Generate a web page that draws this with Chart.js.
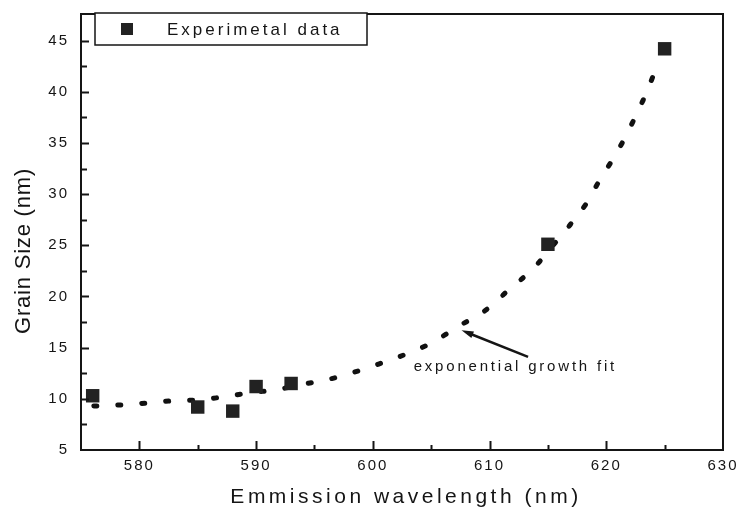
<!DOCTYPE html>
<html>
<head>
<meta charset="utf-8">
<script src="https://cdn.jsdelivr.net/npm/chart.js@4.4.1/dist/chart.umd.min.js"></script>
<style>
  html, body { margin: 0; padding: 0; background: #fff; }
  #wrap { width: 739px; height: 509px; position: relative; }
</style>
</head>
<body>
<div id="wrap"><canvas id="grainChart"></canvas></div>
<script>
// Measured points (squares)
const wavelength = [576, 585, 588, 590, 593, 615, 625];
const grainSize = [10.3, 9.2, 8.8, 11.2, 11.5, 25.1, 44.2];

// Exponential growth fit
const fitWavelength = [576.1, 578.4, 580.7, 582.8, 585.1, 587.3, 589.5, 591.8, 593.9, 596.2, 598.4, 600.5,
    602.9, 605.1, 607.2, 609.6, 611.6, 613.8, 615.3, 616.9, 618.3, 619.4, 620.5, 621.6, 622.5, 623.4, 624.1];
const fitGrainSize = [9.3, 9.4, 9.6, 9.8, 9.9, 10.2, 10.6, 10.9, 11.4, 11.9, 12.6, 13.4,
    14.4, 15.5, 17.0, 18.6, 20.6, 22.8, 24.8, 27.0, 29.1, 31.3, 33.3, 35.5, 37.6, 39.8, 41.8];

// Tick labels
const xTickLabels = [580, 590, 600, 610, 620, 630];
const yTickLabels = [5, 10, 15, 20, 25, 30, 35, 40, 45];

const seriesLabel = 'Experimetal data';
const fitLabel = 'exponential growth fit';
const xTitle = 'Emmission wavelength (nm)';
const yTitle = 'Grain Size (nm)';

const ink = '#151515';
const fontFamily = '"Liberation Sans", Arial, sans-serif';

// Frame, inward ticks, legend box, annotation and axis titles
const decorPlugin = {
    id: 'decor',
    beforeDraw(chart) {
        chart.ctx.letterSpacing = '2px';
    },
    afterDraw(chart) {
        const ctx = chart.ctx;
        const area = chart.chartArea;
        const xs = chart.scales.x;
        const ys = chart.scales.y;
        ctx.save();
        ctx.strokeStyle = ink;
        ctx.fillStyle = ink;

        // frame
        ctx.lineWidth = 2;
        ctx.strokeRect(area.left, area.top, area.right - area.left, area.bottom - area.top);

        // tick marks pointing inside
        ctx.lineWidth = 2;
        ys.ticks.forEach(t => {
            if (t.value <= ys.min || t.value >= ys.max) return;
            const py = Math.round(ys.getPixelForValue(t.value)) + 0.5;
            const len = yTickLabels.includes(t.value) ? 8 : 6;
            ctx.beginPath();
            ctx.moveTo(area.left, py);
            ctx.lineTo(area.left + len, py);
            ctx.stroke();
        });
        xs.ticks.forEach(t => {
            if (t.value <= xs.min || t.value >= xs.max) return;
            const px = Math.round(xs.getPixelForValue(t.value)) + 0.5;
            const len = xTickLabels.includes(t.value) ? 9 : 5;
            ctx.beginPath();
            ctx.moveTo(px, area.bottom);
            ctx.lineTo(px, area.bottom - len);
            ctx.stroke();
        });

        // legend box
        const lx = area.left + 14, ly = area.top - 1, lw = 272, lh = 32;
        ctx.fillStyle = '#fff';
        ctx.fillRect(lx, ly, lw, lh);
        ctx.lineWidth = 1.5;
        ctx.strokeRect(lx, ly, lw, lh);
        ctx.fillStyle = '#222';
        ctx.fillRect(lx + 26, ly + 10, 12, 12);
        ctx.fillStyle = ink;
        ctx.font = '17px ' + fontFamily;
        ctx.letterSpacing = '3px';
        ctx.textBaseline = 'middle';
        ctx.textAlign = 'left';
        ctx.fillText(seriesLabel, lx + 72, ly + 17);

        // annotation with arrow
        const tipX = xs.getPixelForValue(607.6), tipY = ys.getPixelForValue(16.7);
        const tailX = xs.getPixelForValue(613.3), tailY = ys.getPixelForValue(14.1);
        ctx.lineWidth = 2.5;
        ctx.beginPath();
        ctx.moveTo(tailX, tailY);
        ctx.lineTo(tipX + 6, tipY + 2.5);
        ctx.stroke();
        const ang = Math.atan2(tipY - tailY, tipX - tailX);
        ctx.beginPath();
        ctx.moveTo(tipX, tipY);
        ctx.lineTo(tipX - 12 * Math.cos(ang) + 3.5 * Math.sin(ang), tipY - 12 * Math.sin(ang) - 3.5 * Math.cos(ang));
        ctx.lineTo(tipX - 12 * Math.cos(ang) - 3.5 * Math.sin(ang), tipY - 12 * Math.sin(ang) + 3.5 * Math.cos(ang));
        ctx.closePath();
        ctx.fill();
        ctx.font = '15px ' + fontFamily;
        ctx.letterSpacing = '2.8px';
        ctx.textBaseline = 'alphabetic';
        ctx.fillText(fitLabel, xs.getPixelForValue(603.5), ys.getPixelForValue(12.7));

        // axis titles
        ctx.font = '21px ' + fontFamily;
        ctx.letterSpacing = '3.5px';
        ctx.textAlign = 'center';
        ctx.textBaseline = 'middle';
        ctx.fillText(xTitle, 406, 497);
        ctx.save();
        ctx.translate(24, 251);
        ctx.rotate(-Math.PI / 2);
        ctx.font = '22px ' + fontFamily;
        ctx.letterSpacing = '0.8px';
        ctx.fillText(yTitle, 0, 0);
        ctx.restore();

        ctx.restore();
    }
};

new Chart(document.getElementById('grainChart'), {
    type: 'scatter',
    data: {
        datasets: [
            {
                label: seriesLabel,
                data: wavelength.map((x, i) => ({ x: x, y: grainSize[i] })),
                pointStyle: 'rect',
                pointRadius: 9.5,
                backgroundColor: '#222',
                borderWidth: 0
            },
            {
                type: 'line',
                label: fitLabel,
                data: fitWavelength.map((x, i) => ({ x: x, y: fitGrainSize[i] })),
                borderColor: '#111',
                borderWidth: 5,
                borderDash: [3, 21],
                borderCapStyle: 'round',
                cubicInterpolationMode: 'monotone',
                pointRadius: 0,
                fill: false
            }
        ]
    },
    options: {
        responsive: true,
        maintainAspectRatio: false,
        animation: false,
        layout: { padding: { left: 0, right: 16, top: 14, bottom: 0 } },
        plugins: {
            legend: { display: false },
            tooltip: { enabled: false }
        },
        scales: {
            x: {
                type: 'linear',
                min: 575,
                max: 630,
                afterFit: s => { s.height = 59; s.paddingRight = 0; s.paddingLeft = 0; },
                grid: { display: false, drawTicks: false },
                border: { display: false },
                ticks: {
                    stepSize: 5,
                    autoSkip: false,
                    maxRotation: 0,
                    padding: 7,
                    color: ink,
                    font: { family: fontFamily, size: 15 },
                    callback: v => xTickLabels.includes(v) ? v : ''
                }
            },
            y: {
                type: 'linear',
                min: 5,
                max: 47.6,
                afterFit: s => { s.width = 81; s.paddingTop = 0; s.paddingBottom = 0; },
                grid: { display: false, drawTicks: false },
                border: { display: false },
                ticks: {
                    stepSize: 2.5,
                    autoSkip: false,
                    padding: 12,
                    color: ink,
                    font: { family: fontFamily, size: 15 },
                    callback: v => yTickLabels.includes(v) ? v : ''
                }
            }
        }
    },
    plugins: [decorPlugin]
});
</script>
</body>
</html>
